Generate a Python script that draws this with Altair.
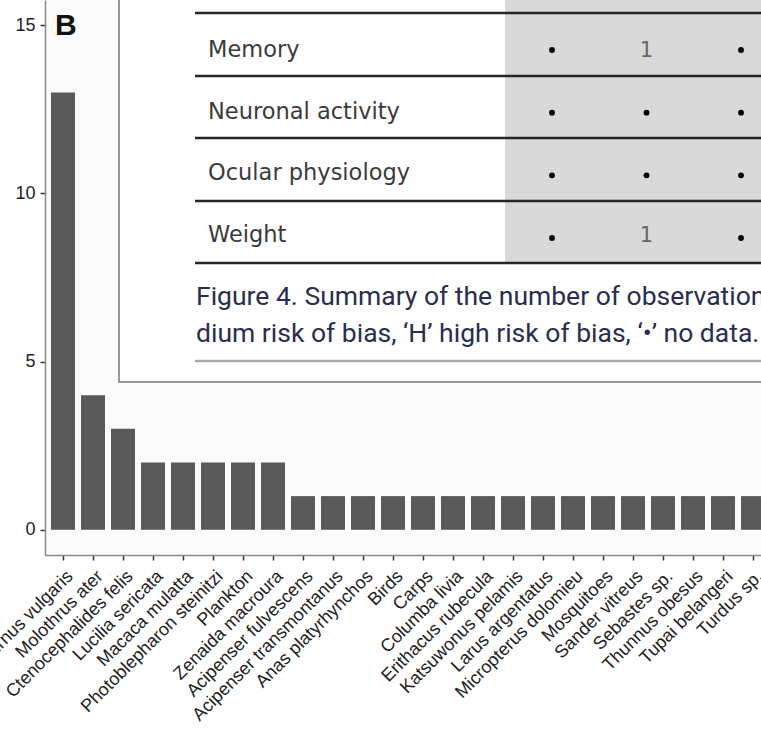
import altair as alt
import pandas as pd

# ---------------- data ----------------
species = [
    "Sturnus vulgaris", "Molothrus ater", "Ctenocephalides felis", "Lucilia sericata",
    "Macaca mulatta", "Photoblepharon steinitzi", "Plankton", "Zenaida macroura",
    "Acipenser fulvescens", "Acipenser transmontanus", "Anas platyrhynchos", "Birds",
    "Carps", "Columba livia", "Erithacus rubecula", "Katsuwonus pelamis",
    "Larus argentatus", "Micropterus dolomieu", "Mosquitoes", "Sander vitreus",
    "Sebastes sp.", "Thunnus obesus", "Tupai belangeri", "Turdus sp.",
]
counts = [13, 4, 3, 2, 2, 2, 2, 2, 1, 1, 1, 1, 1, 1, 1, 1, 1, 1, 1, 1, 1, 1, 1, 1]
y_ticks = [0, 5, 10, 15]

outcomes = ["Memory", "Neuronal activity", "Ocular physiology", "Weight"]
table_cols = ["c1", "c2", "c3"]
cell_values = [
    ["•", "1", "•"],
    ["•", "•", "•"],
    ["•", "•", "•"],
    ["•", "1", "•"],
]
caption_lines = [
    "Figure 4. Summary of the number of observations",
    "dium risk of bias, \u2018H\u2019 high risk of bias, \u2018\u2022\u2019 no data.",
]
caption_ids = ["l1", "l2"]
panel_tag = "B"

# ---------------- tables ----------------
bars_df = pd.DataFrame({"species": species, "count": counts})
cells_df = pd.DataFrame(
    [{"outcome": o, "col": c, "value": v}
     for o, row in zip(outcomes, cell_values) for c, v in zip(table_cols, row)]
)
rows_df = pd.DataFrame({"outcome": outcomes})
cap_df = pd.DataFrame({"i": caption_ids, "line": caption_lines})
one = pd.DataFrame({"k": [0]})

W, H = 716, 555
XFS, YFS = 18, 18

bars = alt.Chart(bars_df).mark_bar(color="#595959").encode(
    x=alt.X(
        "species:N",
        sort=species,
        scale=alt.Scale(domain=species, range=[0, 726], paddingInner=0.2, paddingOuter=0.2),
        axis=alt.Axis(
            title=None, labelAngle=-45, labelAlign="right", labelBaseline="top",
            labelFont="Liberation Sans", labelFontSize=XFS, labelColor="#222222",
            labelPadding=7, labelOffset=1, tickSize=5, tickWidth=1.5, tickColor="#333333",
            domainColor="#8a8a8a", domainWidth=1.5, grid=False, labelOverlap=False,
            labelLimit=400,
        ),
    ),
    y=alt.Y(
        "count:Q",
        scale=alt.Scale(domain=[-0.75, 15.75], nice=False, zero=False),
        axis=alt.Axis(
            title=None, values=y_ticks, labelFont="Liberation Sans", labelFontSize=YFS,
            labelColor="#222222", labelPadding=5, tickSize=5, tickWidth=1.5,
            tickColor="#333333", domainColor="#8a8a8a", domainWidth=1.5, grid=False,
        ),
    ),
    y2=alt.datum(0),
)

inset_box = alt.Chart(one).mark_rect(fill="white", stroke="#777777", strokeWidth=1.5).encode(
    x=alt.value(74), x2=alt.value(830), y=alt.value(-20), y2=alt.value(382)
)
shade = alt.Chart(one).mark_rect(fill="#d9d9d9").encode(
    x=alt.value(460), x2=alt.value(830), y=alt.value(-20), y2=alt.value(263)
)
table_rules = [
    alt.Chart(one).mark_rule(color="#262626", strokeWidth=2.5).encode(
        x=alt.value(150), x2=alt.value(830), y=alt.value(yv)
    )
    for yv in (13, 76, 138, 201, 263)
]
underline = alt.Chart(one).mark_rule(color="#a8a8a8", strokeWidth=2.5).encode(
    x=alt.value(150), x2=alt.value(830), y=alt.value(361)
)

row_labels = alt.Chart(rows_df).mark_text(
    align="left", baseline="alphabetic", font="DejaVu Sans", fontSize=22.5, color="#3a3a3a"
).encode(
    x=alt.value(163),
    y=alt.Y("outcome:N", scale=alt.Scale(type="point", domain=outcomes, range=[57, 242], padding=0), axis=None),
    text="outcome:N",
)

dots = alt.Chart(cells_df).transform_filter(alt.datum.value == "•").mark_circle(
    color="black", size=34, opacity=1
).encode(
    x=alt.X("col:N", scale=alt.Scale(type="point", domain=table_cols, range=[507, 696], padding=0), axis=None),
    y=alt.Y("outcome:N", scale=alt.Scale(type="point", domain=outcomes, range=[50, 238], padding=0), axis=None),
)

numbers = alt.Chart(cells_df).transform_filter(alt.datum.value != "•").mark_text(
    align="center", baseline="alphabetic", font="DejaVu Sans", fontSize=21, color="#666666"
).encode(
    x=alt.X("col:N", scale=alt.Scale(type="point", domain=table_cols, range=[507, 696], padding=0), axis=None),
    y=alt.Y("outcome:N", scale=alt.Scale(type="point", domain=outcomes, range=[57, 242], padding=0), axis=None),
    text="value:N",
)

caption = alt.Chart(cap_df).mark_text(
    align="left", baseline="alphabetic", font="Roboto", fontSize=26.5, color="#2b2d4f"
).encode(
    x=alt.value(151),
    y=alt.Y("i:N", scale=alt.Scale(type="point", domain=caption_ids, range=[305, 342], padding=0), axis=None),
    text="line:N",
)

tag = alt.Chart(one).mark_text(
    text=panel_tag, align="left", baseline="alphabetic", font="Liberation Sans",
    fontWeight="bold", fontSize=30, color="#111111"
).encode(x=alt.value(10), y=alt.value(35))

chart = alt.layer(
    bars, inset_box, shade, *table_rules, underline, row_labels, dots, numbers, caption, tag
).resolve_scale(x="independent", y="independent").properties(
    width=W, height=H,
    autosize=alt.AutoSizeParams(type="none"),
    padding={"left": 45, "top": 0, "right": 0, "bottom": 186},
).configure_view(
    fill="#fbfbfb", stroke="transparent"
).configure_axis(
    labelFont="Liberation Sans", labelColor="#222222"
).configure_axisX(
    labelFontSize=XFS
).configure_axisY(
    labelFontSize=YFS
)

chart.save("out.html", embed_options={"renderer": "svg", "actions": False})
